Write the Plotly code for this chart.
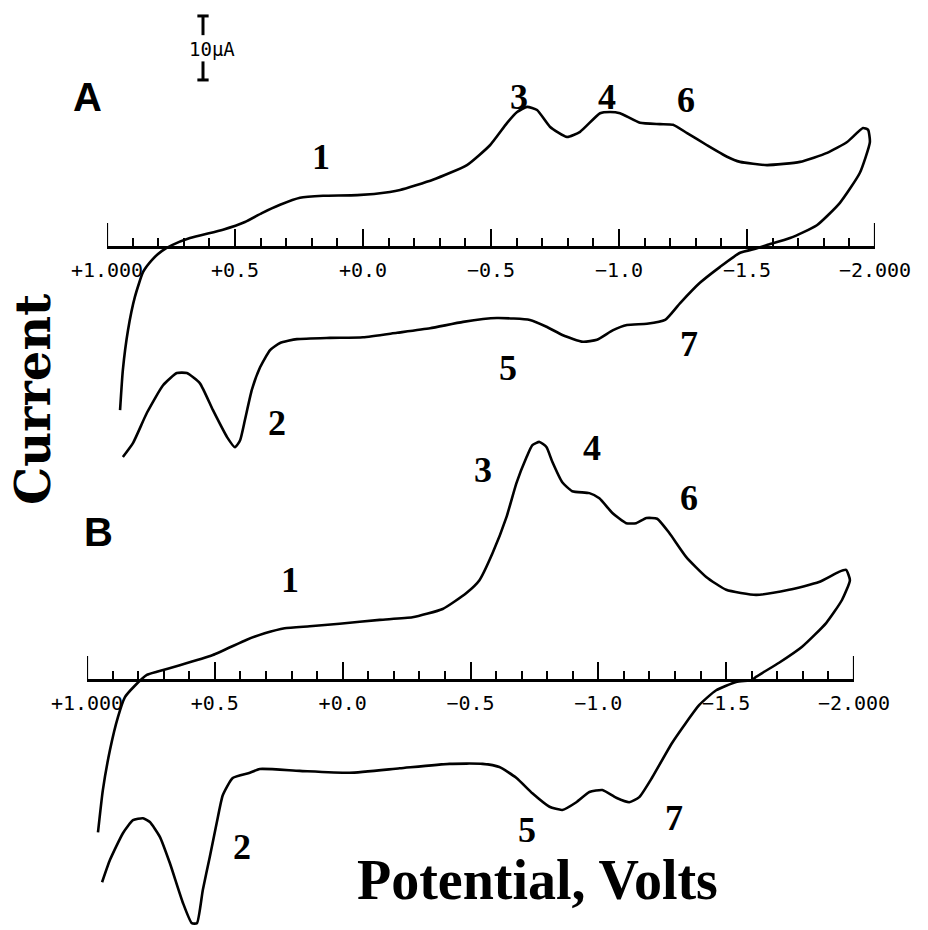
import plotly.graph_objects as go

# ---------------- data (potential in V, current in uA) ----------------
E_A = [0.949, 0.938, 0.918, 0.891, 0.859, 0.824, 0.785, 0.746, 0.676, 0.547, 0.461, 0.395, 0.324, 0.246,
       0.156, 0.023, -0.105, -0.145, -0.273, -0.406, -0.496, -0.563, -0.602, -0.641, -0.680, -0.730,
       -0.797, -0.848, -0.926, -0.965, -1.004, -1.082, -1.160, -1.211, -1.266, -1.344, -1.422, -1.473,
       -1.578, -1.707, -1.813, -1.891, -1.953, -1.973, -1.980, -1.941, -1.863, -1.773, -1.668, -1.578,
       -1.539, -1.473, -1.395, -1.316, -1.238, -1.180, -1.109, -1.031, -0.977, -0.914, -0.859, -0.781,
       -0.719, -0.652, -0.523, -0.391, -0.262, -0.133, 0.000, 0.129, 0.258, 0.324, 0.363, 0.402, 0.434,
       0.461, 0.480, 0.500, 0.531, 0.586, 0.637, 0.688, 0.727, 0.781, 0.844, 0.898, 0.938]
I_A = [-25.5, -19.2, -13.0, -7.8, -3.9, -2.0, -0.6, 0.3, 1.4, 2.7, 3.9, 5.3, 6.6, 7.7,
       8.0, 8.1, 8.6, 8.9, 10.5, 12.8, 15.9, 19.4, 21.1, 21.9, 21.4, 18.8,
       17.2, 18.0, 20.9, 21.1, 20.9, 19.4, 19.2, 19.1, 17.8, 15.9, 14.1, 13.3,
       12.8, 13.3, 14.7, 16.4, 18.6, 18.3, 16.4, 11.6, 6.9, 3.4, 1.4, 0.3,
       -0.2, -0.9, -3.1, -5.6, -8.8, -11.4, -12.0, -12.2, -13.0, -14.5, -14.8, -13.8,
       -12.5, -11.4, -11.1, -11.7, -12.7, -13.4, -14.1, -14.2, -14.4, -15.0, -16.1, -18.8, -22.3,
       -27.0, -30.2, -31.3, -29.7, -25.5, -21.3, -19.7, -19.7, -21.6, -25.9, -30.6, -32.8]

E_B = [0.957, 0.938, 0.910, 0.879, 0.852, 0.813, 0.766, 0.727, 0.637, 0.508, 0.375, 0.305, 0.227, 0.129,
       0.012, -0.145, -0.273, -0.391, -0.484, -0.535, -0.586, -0.641, -0.680, -0.719, -0.742, -0.770,
       -0.797, -0.820, -0.859, -0.898, -0.965, -1.004, -1.055, -1.109, -1.148, -1.188, -1.230, -1.277,
       -1.344, -1.422, -1.500, -1.617, -1.746, -1.863, -1.941, -1.969, -1.984, -1.953, -1.891, -1.797,
       -1.707, -1.617, -1.602, -1.539, -1.461, -1.395, -1.289, -1.211, -1.160, -1.121, -1.070, -1.016,
       -0.965, -0.914, -0.859, -0.809, -0.742, -0.680, -0.613, -0.547, -0.418, -0.223, -0.027, 0.168,
       0.324, 0.363, 0.430, 0.469, 0.492, 0.520, 0.547, 0.570, 0.590, 0.625, 0.676, 0.715, 0.754,
       0.781, 0.820, 0.859, 0.910, 0.941]
I_B = [-23.8, -17.2, -10.9, -5.8, -2.7, -0.9, 0.8, 1.3, 2.3, 3.9, 6.3, 7.3, 8.1, 8.4,
       8.8, 9.4, 9.8, 11.1, 13.6, 15.6, 19.8, 25.5, 30.8, 34.8, 36.7, 37.2,
       36.4, 34.1, 30.9, 29.5, 29.2, 28.4, 26.1, 24.5, 24.5, 25.3, 25.2, 23.0,
       19.2, 16.1, 14.1, 13.3, 14.1, 15.3, 16.9, 17.2, 15.6, 12.5, 8.9, 5.2,
       2.7, 0.5, 0.0, -0.3, -1.6, -3.9, -9.8, -15.2, -18.3, -19.1, -18.4, -17.2,
       -17.5, -19.1, -20.3, -19.8, -17.7, -15.3, -13.6, -13.1, -13.1, -13.8, -14.5, -14.2,
       -13.9, -14.5, -15.3, -18.0, -22.2, -27.7, -32.8, -38.0, -38.0, -34.8, -28.6, -24.5, -22.2,
       -21.6, -21.9, -23.9, -28.1, -31.6]

TICK_VALS = [1.0, 0.5, 0.0, -0.5, -1.0, -1.5, -2.0]
TICK_TEXT = ["+1.000", "+0.5", "+0.0", "\u22120.5", "\u22121.0", "\u22121.5", "\u22122.000"]
MINOR_VALS = [round(1.0 - 0.1 * k, 1) for k in range(31)]

SCALE_UA = 10.0        # scale bar length, uA
SCALE_BASE = 26.1      # lower end of scale bar, uA (panel A)
SCALE_E = 0.625        # potential where the bar stands, V

PEAKS_A = ["1", "3", "4", "6", "2", "5", "7"]
PEAKS_B = ["1", "3", "4", "6", "2", "5", "7"]

# ---------------- layout geometry ----------------
W, H = 928, 930
PX_PER_UA = 6.4
AXIS_A_Y, AXIS_B_Y = 247, 680       # pixel rows of the zero-current axes
XA = (107, 875)
XB = (87, 854)


def px(x, y):
    return x / W, 1 - y / H


fig = go.Figure()
line_style = dict(color="black", width=2.6, shape="spline", smoothing=0.5)
fig.add_trace(go.Scatter(x=E_A, y=I_A, mode="lines", line=line_style, xaxis="x", yaxis="y",
                         showlegend=False, hoverinfo="skip"))
fig.add_trace(go.Scatter(x=E_B, y=I_B, mode="lines", line=line_style, xaxis="x2", yaxis="y2",
                         showlegend=False, hoverinfo="skip"))

# taller end ticks of the potential axes
end_len = 24 / PX_PER_UA
for xa, ya in (("x", "y"), ("x2", "y2")):
    fig.add_trace(go.Scatter(x=[1.0, 1.0, None, -2.0, -2.0], y=[0, end_len, None, 0, end_len],
                             mode="lines", line=dict(color="black", width=2.2), xaxis=xa, yaxis=ya,
                             showlegend=False, hoverinfo="skip", cliponaxis=False))

# 10 uA scale bar (panel A)
top = SCALE_BASE + SCALE_UA
cap = 0.022
fig.add_trace(go.Scatter(
    x=[SCALE_E - cap, SCALE_E + cap, None, SCALE_E, SCALE_E, None, SCALE_E, SCALE_E, None,
       SCALE_E - cap, SCALE_E + cap],
    y=[top, top, None, top, top - 3.0, None, SCALE_BASE + 2.9, SCALE_BASE, None, SCALE_BASE, SCALE_BASE],
    mode="lines", line=dict(color="black", width=3), xaxis="x", yaxis="y",
    showlegend=False, hoverinfo="skip"))


def xaxis_dict(dom, pos_y):
    return dict(domain=[dom[0] / W, dom[1] / W], range=[1.0, -2.0], anchor="free",
                position=1 - pos_y / H, showline=True, linewidth=2.6, linecolor="black",
                tickmode="array", tickvals=TICK_VALS, ticktext=TICK_TEXT, ticks="inside",
                ticklen=17, tickwidth=2, tickcolor="black", ticklabelstandoff=4,
                tickfont=dict(family="DejaVu Sans Mono", size=20, color="black"),
                minor=dict(tickmode="array", tickvals=MINOR_VALS, ticks="inside", ticklen=8,
                           tickwidth=1.8, tickcolor="black", showgrid=False),
                showgrid=False, zeroline=False, fixedrange=True, automargin=False)


fig.update_layout(
    width=W, height=H, margin=dict(l=0, r=0, t=0, b=0, pad=0), autosize=False,
    paper_bgcolor="white", plot_bgcolor="rgba(0,0,0,0)",
    xaxis=xaxis_dict(XA, AXIS_A_Y),
    xaxis2=xaxis_dict(XB, AXIS_B_Y),
    yaxis=dict(domain=[0, 1], range=[-(H - AXIS_A_Y) / PX_PER_UA, AXIS_A_Y / PX_PER_UA],
               visible=False, anchor="x", fixedrange=True, automargin=False),
    yaxis2=dict(domain=[0, 1], range=[-(H - AXIS_B_Y) / PX_PER_UA, AXIS_B_Y / PX_PER_UA],
                visible=False, anchor="x2", fixedrange=True, automargin=False),
)

ann = []
serif = dict(family="Liberation Serif", size=36, color="black")


def label(text, x, y, font, angle=0):
    xp, yp = px(x, y)
    ann.append(dict(text=text, x=xp, y=yp, xref="paper", yref="paper", showarrow=False,
                    xanchor="center", yanchor="middle", font=font, textangle=angle))


pos_a = [(321, 157), (519, 97), (607, 97), (686, 100), (277, 423), (508, 368), (689, 344)]
pos_b = [(290, 580), (483, 470), (592, 448), (689, 498), (242, 847), (527, 830), (674, 818)]
for t, (x, y) in zip(PEAKS_A, pos_a):
    label("<b>%s</b>" % t, x, y, serif)
for t, (x, y) in zip(PEAKS_B, pos_b):
    label("<b>%s</b>" % t, x, y, serif)

sans = dict(family="Liberation Sans", size=40, color="black")
label("<b>A</b>", 87, 97, sans)
label("<b>B</b>", 98, 532, sans)
label("<b>Current</b>", 33, 400, dict(family="DejaVu Serif", size=48, color="black"), angle=-90)
label("<b>Potential, Volts</b>", 537, 880, dict(family="Liberation Serif", size=56, color="black"))
label("10\u00b5A", 212, 49, dict(family="DejaVu Sans Mono", size=19, color="black"))

fig.update_layout(annotations=ann)
fig.write_html("out.html", config={"displayModeBar": False},
               post_script="document.body.style.margin='0';")
